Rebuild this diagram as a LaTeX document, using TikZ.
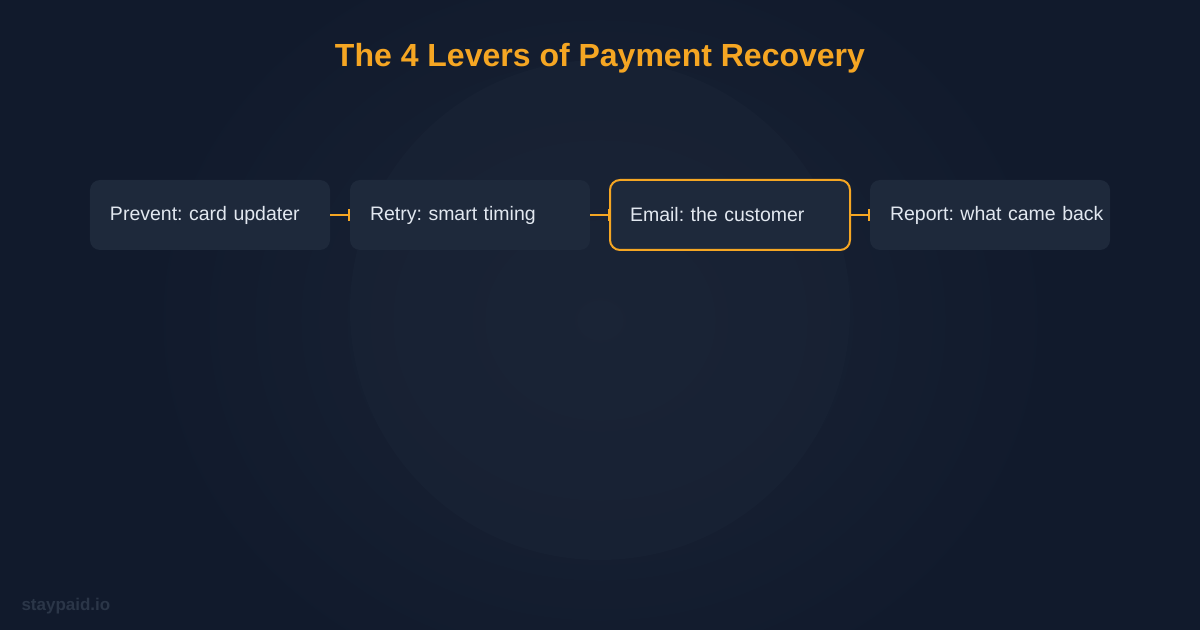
\documentclass[tikz,border=0pt]{standalone}
\usepackage{fontspec}
\setmainfont{Liberation Sans}
\frenchspacing
\usetikzlibrary{positioning,arrows.meta}

\definecolor{bgdark}{HTML}{111A2C}
\definecolor{bglight}{HTML}{1A2436}
\definecolor{boxfill}{HTML}{1E293B}
\definecolor{accent}{HTML}{F5A623}
\definecolor{labeltext}{HTML}{E2E8F0}
\definecolor{brandgray}{HTML}{2B3648}

\tikzset{
  lever/.style={fill=boxfill, rounded corners=10bp, minimum width=240bp,
    minimum height=70bp, inner xsep=20bp, text width=200bp, align=left,
    outer sep=0pt, text=labeltext, font=\fontsize{19.5bp}{23bp}\selectfont},
  active/.style={lever, draw=accent, line width=2bp},
  link/.style={draw=accent, line width=2.2bp, -{Bar[width=12bp,line width=2bp]}}
}

\begin{document}
\begin{tikzpicture}[x=1bp,y=-1bp]
% background and soft glow
\fill[bgdark] (0,0) rectangle (1200,630);
\useasboundingbox (0,0) rectangle (1200,630);
\shade[inner color=bglight, outer color=bgdark] (600,320) ellipse (460 and 400);
\fill[bglight, opacity=0.5] (600,310) ellipse (250 and 250);

\node[text=accent, font=\bfseries\fontsize{32bp}{38bp}\selectfont] (title) at (600,58) {The 4 Levers of Payment Recovery};

% the four levers
\node[lever] (prevent) at (210,215) {\mbox{Prevent: card updater}};
\node[lever, right=20bp of prevent] (retry) {\mbox{Retry: smart timing}};
\node[active, right=20bp of retry] (email) {\mbox{Email: the customer}};
\node[lever, right=20bp of email] (report) {\mbox{Report: what came back}};

\draw[link] (prevent) -- (retry);
\draw[link] (retry) -- (email);
\draw[link] (email) -- (report);

\node[anchor=west, text=brandgray, font=\bfseries\fontsize{17bp}{20bp}\selectfont] (brand) at (18,606) {staypaid.io};
\end{tikzpicture}
\end{document}
